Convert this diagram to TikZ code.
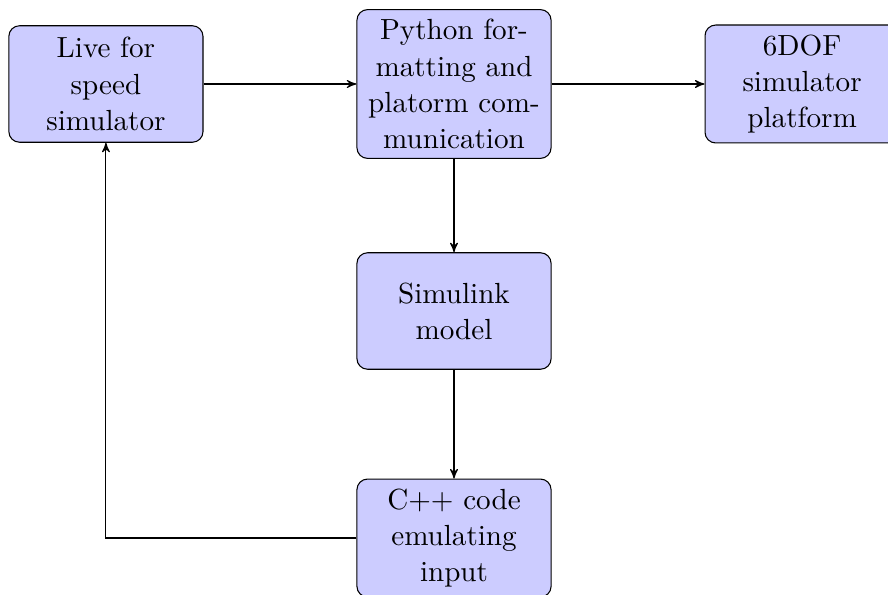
\documentclass[tikz,border=0pt,11pt]{standalone}
\usetikzlibrary{arrows}
\tikzset{block/.style={rectangle,draw,fill=blue!20,text width=6em,text centered,rounded corners,minimum height=4em},
	line/.style={draw,-stealth'}}
\begin{document}
\begin{tikzpicture}
		
		\useasboundingbox (-6.0,-6.74) rectangle (5.735,1.11);
		
		\node[block] (python) at (0,0) {Python formatting and platorm communication};
		\node[block] (live) at (-4.6,0) {Live for speed simulator};
		\node[block] (platform) at (4.6,0) {6DOF simulator platform};
		\node[block] (simulink) at (0,-3) {Simulink model};
		\node[block] (cpp) at (0,-6) {C++ code emulating input};
		
		\path[line](live)--(python);
		\path[line](python)--(platform);
		\path[line](python)--(simulink);
		\path[line](simulink)--(cpp);
		\path[line](cpp.west)-|(live.south);
		
		\end{tikzpicture}
\end{document}
